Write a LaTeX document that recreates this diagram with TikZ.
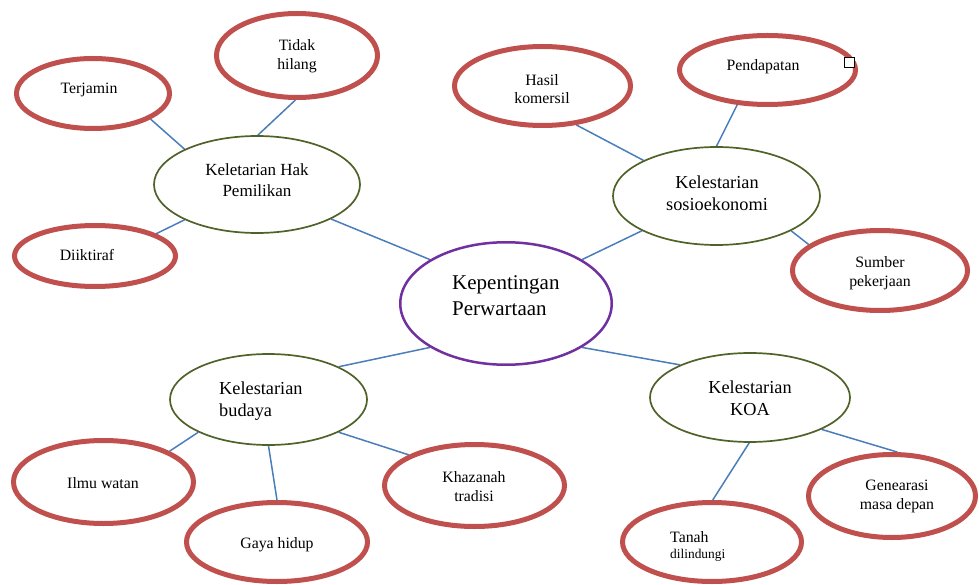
\documentclass[tikz,border=0pt]{standalone}
\usepackage{fontspec}
\setmainfont{Liberation Serif}
\usetikzlibrary{shapes.geometric,backgrounds}
\definecolor{redring}{HTML}{C0504D}
\definecolor{greenring}{HTML}{4F6228}
\definecolor{purplering}{HTML}{7030A0}
\definecolor{linkblue}{HTML}{4A7EBB}
\begin{document}
\begin{tikzpicture}[x=1pt,y=-1pt,
  ell/.style={ellipse,inner sep=0pt,fill=white},
  leaf/.style={ell,draw=redring,line width=5pt},
  branch/.style={ell,draw=greenring,line width=1.7pt},
  hub/.style={ell,draw=purplering,line width=2.5pt},
  link/.style={draw=linkblue,line width=1.5pt},
  smalltxt/.style={align=center,inner sep=0pt,font=\fontsize{15.8}{18.5}\selectfont},
  midtxt/.style={align=center,inner sep=0pt,font=\fontsize{18.3}{22}\selectfont},
]
\useasboundingbox (0,0) rectangle (979,585);

% ellipses
\node[hub,minimum width=211.5pt,minimum height=122.5pt] (central) at (506,303.5) {};
\node[branch,minimum width=206pt,minimum height=97pt] (hak) at (257,184.5) {};
\node[branch,minimum width=207pt,minimum height=98pt] (sosio) at (716.5,196) {};
\node[branch,minimum width=197pt,minimum height=91pt] (budaya) at (268.5,399.5) {};
\node[branch,minimum width=200pt,minimum height=89pt] (koa) at (750,397.5) {};

\node[leaf,minimum width=153pt,minimum height=70pt] (terjamin) at (93,93.5) {};
\node[leaf,minimum width=161pt,minimum height=84pt] (tidak) at (297,55.5) {};
\node[leaf,minimum width=161pt,minimum height=61pt] (diiktiraf) at (95,256) {};
\node[leaf,minimum width=176pt,minimum height=79pt] (hasil) at (542.5,86) {};
\node[leaf,minimum width=176pt,minimum height=69pt] (pend) at (767.5,70) {};
\node[leaf,minimum width=175pt,minimum height=80pt] (sumber) at (880,270.5) {};
\node[leaf,minimum width=180pt,minimum height=83pt] (ilmu) at (103.5,482) {};
\node[leaf,minimum width=181pt,minimum height=79pt] (gaya) at (277,542) {};
\node[leaf,minimum width=180pt,minimum height=82pt] (khazanah) at (474.5,485.5) {};
\node[leaf,minimum width=167pt,minimum height=83pt] (gen) at (892,496) {};
\node[leaf,minimum width=179pt,minimum height=79pt] (tanah) at (712,542) {};

% connectors
\begin{scope}[on background layer]
\draw[link] (terjamin.-24) -- (hak.154);
\draw[link] (tidak.-92) -- (hak.89);
\draw[link] (diiktiraf.20) -- (hak.-154);
\draw[link] (hak.-25) -- (central.150);
\draw[link] (hasil.-49) -- (sosio.154);
\draw[link] (pend.-131) -- (sosio.90);
\draw[link] (sosio.-25) -- (sumber.160);
\draw[link] (sosio.-155) -- (central.30);
\draw[link] (central.-150) -- (budaya.25);
\draw[link] (budaya.-155) -- (ilmu.25);
\draw[link] (budaya.-90) -- (gaya.90);
\draw[link] (budaya.-25) -- (khazanah.155);
\draw[link] (central.-30) -- (koa.155);
\draw[link] (koa.-91) -- (tanah.89);
\draw[link] (koa.-24) -- (gen.83);
\end{scope}

% texts
\node[anchor=west,align=left,inner sep=0pt,font=\fontsize{21}{26}\selectfont] (tcentral) at (452,296) {Kepentingan\\Perwartaan};
\node[align=center,inner sep=0pt,font=\fontsize{17}{20.5}\selectfont] (thak) at (257,180) {Keletarian Hak\\Pemilikan};
\node[midtxt] (tsosio) at (717,193.5) {Kelestarian\\sosioekonomi};
\node[anchor=west,align=left,inner sep=0pt,font=\fontsize{18.3}{22}\selectfont] (tbudaya) at (219,401) {Kelestarian\\budaya};
\node[midtxt] (tkoa) at (750,398) {Kelestarian\\KOA};

\node[smalltxt] (tterjamin) at (89,90) {Terjamin};
\node[smalltxt] (ttidak) at (297,56) {Tidak\\hilang};
\node[smalltxt] (tdiiktiraf) at (87,255) {Diiktiraf};
\node[smalltxt] (thasil) at (542,89) {Hasil\\komersil};
\node[smalltxt] (tpend) at (763,67) {Pendapatan};
\node[smalltxt] (tsumber) at (880,273) {Sumber\\pekerjaan};
\node[smalltxt] (tilmu) at (103,483) {Ilmu watan};
\node[smalltxt] (tgaya) at (277,545) {Gaya hidup};
\node[smalltxt] (tkhazanah) at (474,486.5) {Khazanah\\tradisi};
\node[smalltxt] (tgen) at (897,496.5) {Genearasi\\masa depan};
\node[anchor=base west,inner sep=0pt,font=\fontsize{15.8}{18}\selectfont] (ttanah) at (670,542) {Tanah};
\node[anchor=base west,inner sep=0pt,font=\fontsize{13.4}{16}\selectfont] (tdilindungi) at (670,558) {dilindungi};

% small handle square
\node[draw=black,fill=white,line width=1pt,minimum size=10pt,inner sep=0pt] (handle) at (849.5,63) {};
\end{tikzpicture}
\end{document}
